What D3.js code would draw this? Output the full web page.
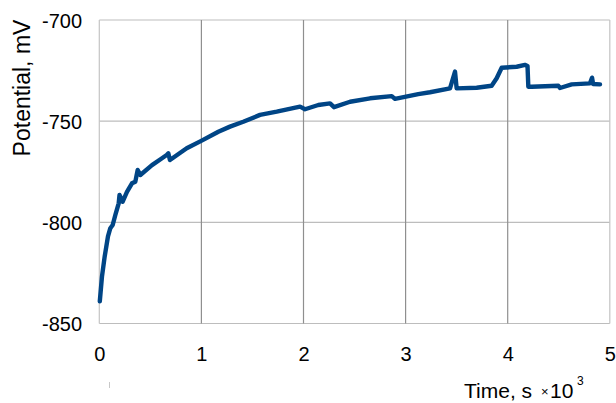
<!DOCTYPE html>
<html>
<head>
<meta charset="utf-8">
<script src="https://cdn.jsdelivr.net/npm/d3@7"></script>
<style>
  html, body { margin: 0; padding: 0; background: #fff; }
  svg { display: block; font-family: "Liberation Sans", Arial, sans-serif; }
</style>
</head>
<body>
<svg id="chart" width="616" height="403"></svg>
<script>
// Open-circuit potential vs. time
const timeS = [5, 26, 53, 85, 108, 131, 157, 190, 198, 229, 271, 320, 353, 376, 402, 516, 614, 660, 676, 692,
  856, 1003, 1166, 1280, 1410, 1574, 1738, 1966, 2015, 2145, 2260, 2299, 2456, 2652, 2864, 2896, 3124, 3239,
  3435, 3484, 3500, 3696, 3843, 3892, 3941, 4088, 4169, 4194, 4202, 4235, 4496, 4512, 4627, 4806, 4826, 4836, 4904];
const potentialMV = [-839, -826.9, -816.8, -806.9, -802.9, -801.3, -796.4, -790.6, -786.5, -789.8, -784.9, -780.7,
  -779.9, -774.1, -776.6, -771.7, -768.3, -766.7, -765.9, -769.2, -763.4, -759.6, -755.2, -752.7, -750.3, -746.9,
  -745.3, -742.8, -744.1, -742.0, -741.2, -743.1, -740.4, -738.7, -737.6, -739.0, -736.6, -735.7, -733.8, -725.5,
  -733.8, -733.5, -732.5, -728.8, -723.6, -723.1, -722.2, -722.7, -733.0, -733.0, -732.5, -733.6, -731.8, -731.3,
  -728.5, -731.6, -731.8];
const xTicks = [0, 1000, 2000, 3000, 4000, 5000];
const yTicks = [-850, -800, -750, -700];

const svg = d3.select("#chart");
const x = d3.scaleLinear().domain([0, 5000]).range([99.3, 609.8]);
const y = d3.scaleLinear().domain([-850, -700]).range([323.5, 20]);

// grid
svg.append("g").selectAll("line").data(yTicks).join("line")
  .attr("x1", x(0)).attr("x2", x(5000))
  .attr("y1", d => y(d)).attr("y2", d => y(d))
  .attr("stroke", "#bdbdbd").attr("stroke-width", 1.2);
svg.append("g").selectAll("line").data(xTicks).join("line")
  .attr("x1", d => x(d)).attr("x2", d => x(d))
  .attr("y1", y(-850)).attr("y2", y(-700))
  .attr("stroke", d => (d === 0 || d === 5000) ? "#c4c4c4" : "#8f8f8f").attr("stroke-width", 1.2);

// axes (labels only; the lines come from the grid)
const xAxis = d3.axisBottom(x).tickValues(xTicks).tickSize(0).tickPadding(0).tickFormat(d => String(d / 1000));
const gx = svg.append("g").attr("transform", `translate(0,${y(-850)})`).call(xAxis);
gx.select(".domain").remove();
gx.selectAll("text").attr("dy", null).attr("y", 37).attr("font-size", 20)
  .attr("fill", "#000").attr("font-family", "Liberation Sans, Arial, sans-serif");

const yAxis = d3.axisLeft(y).tickValues(yTicks).tickSize(0).tickPadding(0).tickFormat(d => String(d));
const gy = svg.append("g").attr("transform", `translate(82,0)`).call(yAxis);
gy.select(".domain").remove();
gy.selectAll("text").attr("x", 0).attr("dy", "0.36em").attr("font-size", 20)
  .attr("fill", "#000").attr("font-family", "Liberation Sans, Arial, sans-serif");

// axis titles
svg.append("text").attr("transform", "translate(30,88) rotate(-90)")
  .attr("text-anchor", "middle").attr("font-size", 23).attr("fill", "#000")
  .text("Potential, mV");

const xTitle = svg.append("g").attr("fill", "#000");
xTitle.append("text").attr("x", 464).attr("y", 398).attr("font-size", 21).text("Time, s");
xTitle.append("text").attr("x", 541).attr("y", 396).attr("font-size", 13).text("×");
xTitle.append("text").attr("x", 550).attr("y", 398).attr("font-size", 21).text("10");
xTitle.append("text").attr("x", 577).attr("y", 385).attr("font-size", 12).text("3");

// small mark below the origin
svg.append("line").attr("x1", 109.5).attr("x2", 109.5).attr("y1", 382).attr("y2", 388)
  .attr("stroke", "#c8c8c8").attr("stroke-width", 1);

// series
const pts = timeS.map((t, i) => [t, potentialMV[i]]);
svg.append("path").datum(pts)
  .attr("fill", "none").attr("stroke", "#004586").attr("stroke-width", 4.4)
  .attr("stroke-linejoin", "round").attr("stroke-linecap", "round")
  .attr("d", d3.line().x(d => x(d[0])).y(d => y(d[1])));
</script>
</body>
</html>
